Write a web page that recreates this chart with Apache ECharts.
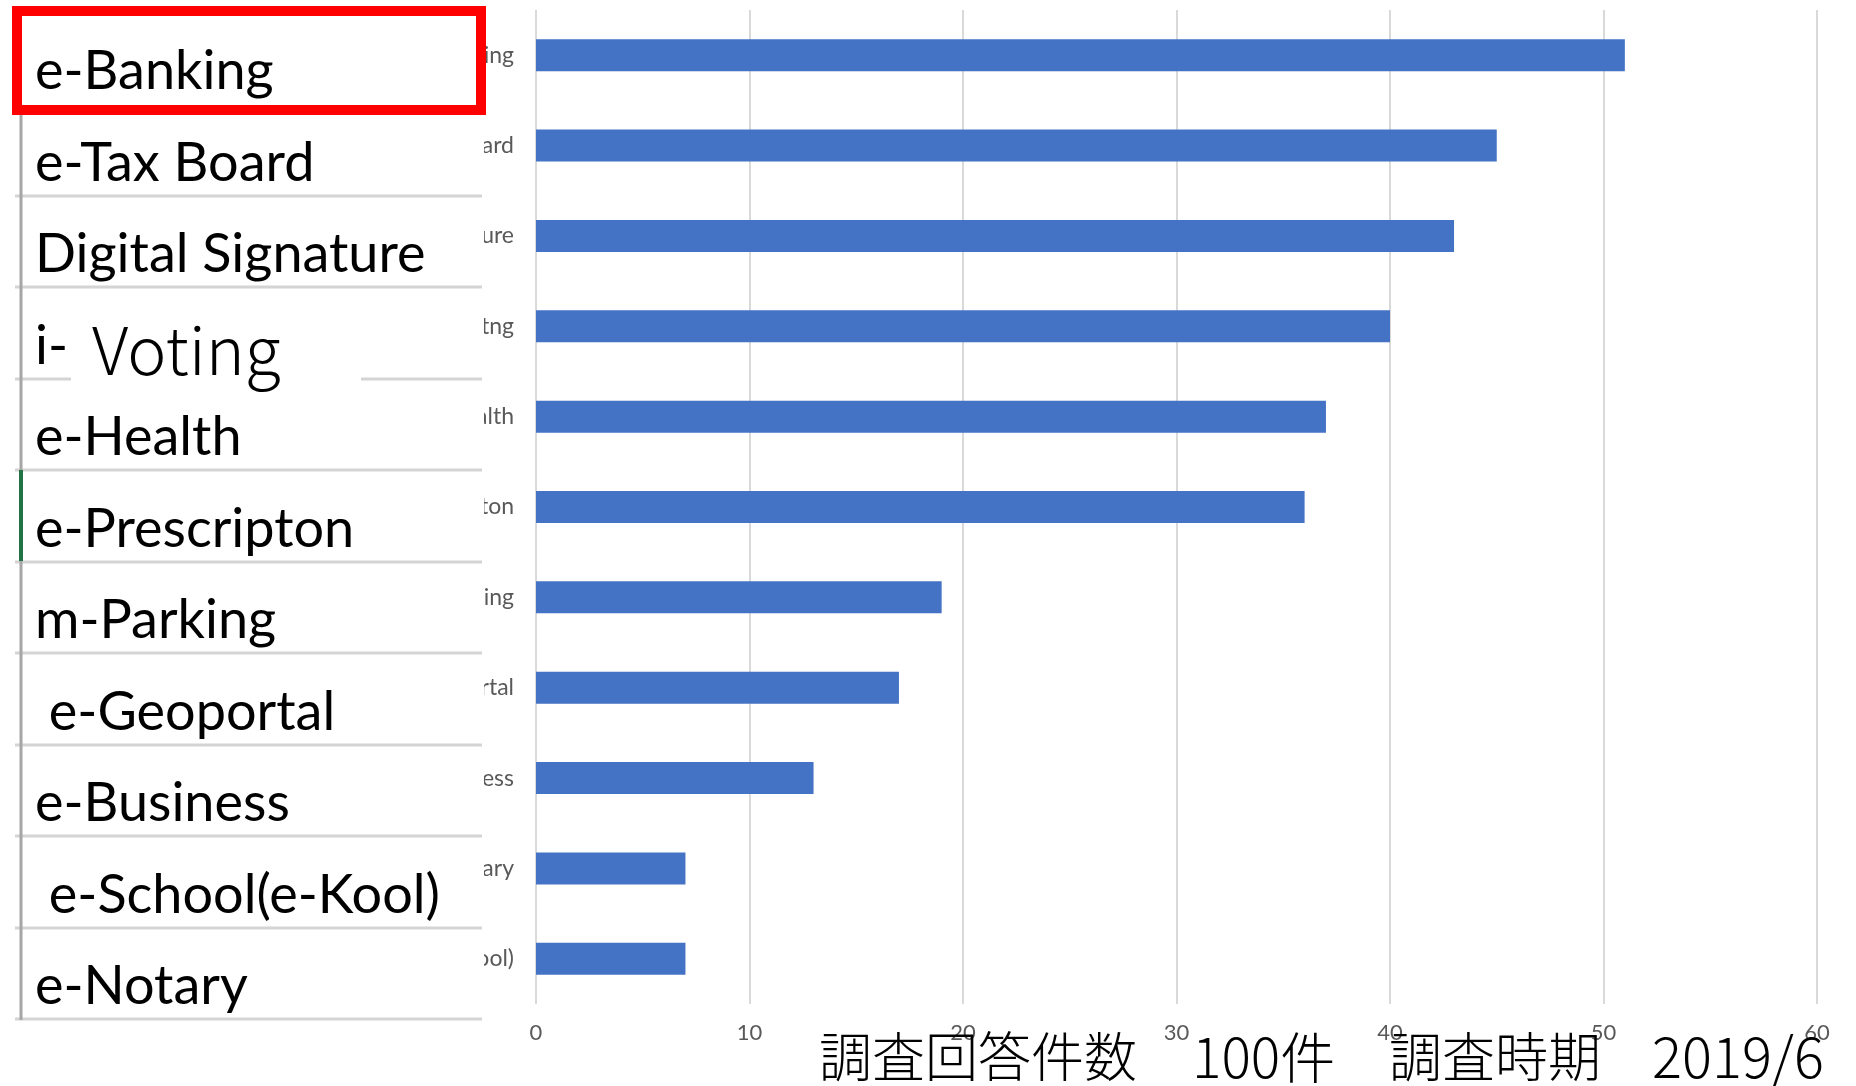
<!DOCTYPE html>
<html>
<head>
<meta charset="utf-8">
<title>調査回答件数</title>
<script src="https://cdn.jsdelivr.net/npm/echarts@6/dist/echarts.min.js"></script>
<style>
  html, body { margin: 0; padding: 0; background: #fff; }
  #main { width: 1856px; height: 1086px; }
</style>
</head>
<body>
<div id="main"></div>
<script>
// axis labels of the bar chart (typos as in the sheet)
var categories = ['e-Banking', 'e-Tax Board', 'Digital Signature', 'i-Votng', 'e-Health', 'e-Prescripton',
  'm-Parking', 'e-Geoportal', 'e-Business', 'e-Notary', 'e-School(e-Kool)']
var counts = [51, 45, 43, 40, 37, 36, 19, 17, 13, 7, 7]
var xTicks = [0, 10, 20, 30, 40, 50, 60]

// the table pasted over the left side
var panelLabels = ['e-Banking', 'e-Tax Board', 'Digital Signature', 'i-', 'e-Health', 'e-Prescripton',
  'm-Parking', ' e-Geoportal', 'e-Business', ' e-School(e-Kool)', 'e-Notary']
var votingWord = 'Voting'
var note = ['調査回答件数', '100件', '調査時期', '2019/6']

var chartDom = document.getElementById('main')
var myChart = echarts.init(chartDom)

var rowH = 91.5
var firstBottom = 104
var gridGray = '#d9d9d9'

var panel = [
  { type: 'rect', shape: { x: 0, y: 0, width: 484, height: 1086 }, style: { fill: '#fff' }, z: 100 }
]
// row lines of the table
for (var k = 1; k < panelLabels.length; k++) {
  var ly = Math.round(firstBottom + rowH * k)
  panel.push({ type: 'line', shape: { x1: 15, y1: ly, x2: 482, y2: ly }, style: { stroke: '#d4d4d4', lineWidth: 3 }, z: 101 })
}
panel.push({ type: 'line', shape: { x1: 21, y1: 115, x2: 21, y2: 1020 }, style: { stroke: '#a6a6a6', lineWidth: 3 }, z: 102 })
panel.push({ type: 'line', shape: { x1: 21, y1: 470, x2: 21, y2: 561 }, style: { stroke: '#217346', lineWidth: 4 }, z: 103 })

panelLabels.forEach(function (name, i) {
  panel.push({
    type: 'text',
    x: 35,
    y: firstBottom + rowH * i - 5,
    style: { text: name, fill: '#000', font: 'normal 54px Lato', verticalAlign: 'bottom' },
    z: 104
  })
})

// "Voting" sits in its own white box on top of the row line
panel.push({ type: 'rect', shape: { x: 71, y: 300, width: 290, height: 84 }, style: { fill: '#fff' }, z: 105 })
panel.push({
  type: 'text',
  x: 92,
  y: 383,
  style: { text: votingWord, fill: '#000', font: '300 66px "Noto Sans CJK JP"', verticalAlign: 'bottom' },
  z: 106
})

// red highlight box
panel.push({ type: 'rect', shape: { x: 17, y: 11, width: 464, height: 99 }, style: { fill: null, stroke: '#ff0000', lineWidth: 10 }, z: 107 })

// survey note at the bottom, one piece at a time
var noteX = [819, 1192, 1389, 1652]
var noteSize = [53, 55, 53, 56]
note.forEach(function (t, i) {
  panel.push({
    type: 'text',
    x: noteX[i],
    y: 1057,
    style: { text: t, fill: '#000', font: '300 ' + noteSize[i] + 'px "Noto Sans CJK JP"', verticalAlign: 'middle' },
    z: 110
  })
})

var option = {
  backgroundColor: '#fff',
  animation: false,
  grid: { left: 536, right: 39, top: 10, bottom: 82 },
  xAxis: {
    type: 'value',
    min: xTicks[0],
    max: xTicks[xTicks.length - 1],
    interval: xTicks[1] - xTicks[0],
    axisLine: { show: false },
    axisTick: { show: false },
    axisLabel: { color: '#595959', fontSize: 22, fontFamily: 'Lato', margin: 18 },
    splitLine: { show: true, lineStyle: { color: gridGray, width: 2 } }
  },
  yAxis: {
    type: 'category',
    inverse: true,
    data: categories,
    axisLine: { show: false },
    axisTick: { show: false },
    axisLabel: { color: '#595959', fontSize: 23, fontFamily: 'Lato', margin: 22 }
  },
  series: [
    {
      type: 'bar',
      data: counts,
      barWidth: 32,
      itemStyle: { color: '#4472c4' }
    }
  ],
  graphic: panel
}
myChart.setOption(option)
</script>
</body>
</html>
